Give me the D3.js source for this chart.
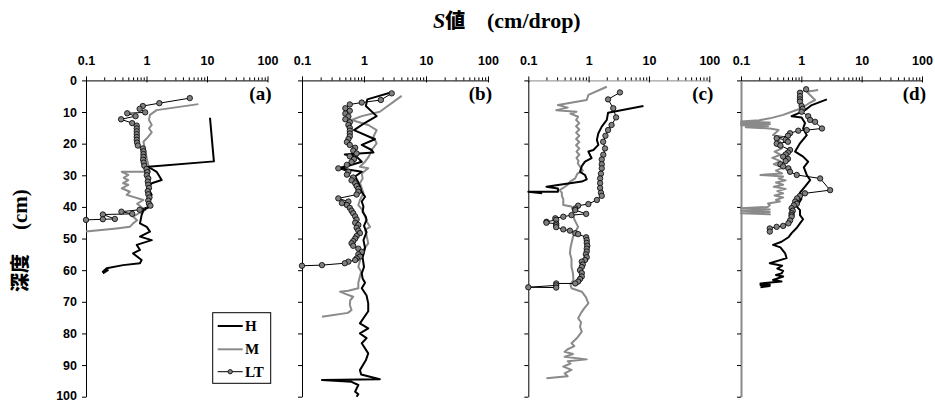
<!DOCTYPE html>
<html><head><meta charset="utf-8">
<script src="https://cdn.jsdelivr.net/npm/d3@7"></script>
<style>
body{margin:0;background:#fff;}
svg{display:block;}
</style></head>
<body><svg id="chart" width="935" height="402"></svg>
<script>
// Panel labels, series names and axis ticks
const panelNames = ["(a)", "(b)", "(c)", "(d)"];
const seriesNames = ["H", "M", "LT"];
const xTicks = [0.1, 1, 10, 100];
const xTickLabels = ["0.1", "1", "10", "100"];
const yTicks = [0, 10, 20, 30, 40, 50, 60, 70, 80, 90, 100];

// Each record: [depth (cm), S value (cm/drop)]
const hA = [[11.8,11.2],[25.6,13.0],[27.3,1.07],[28.9,1.47],[31.5,1.78],[32.5,1.22],[34.1,1.07],[36.2,1.22],[37.8,1.01],[39.9,1.14],[41,0.89],[42.6,0.83],[45.2,0.78],[46.3,1.01],[47.8,1.14],[49.4,0.78],[50.5,1.22],[52,0.69],[53.6,0.78],[54.7,0.6],[56.8,0.83],[57.8,0.78],[58.4,0.41],[59.4,0.22],[60.5,0.19],[60.0,0.23],[61,0.19]];
const mA = [[7.5,7.2],[9.4,1.47],[10.9,1.14],[12.5,1.1],[14.1,1.22],[15.2,1.1],[16.4,1.22],[17.8,1.07],[19.4,0.89],[22,0.95],[24.6,1.01],[26.7,1.07],[28.9,1.14],[28.9,0.39],[29.9,0.5],[30.8,0.42],[31.5,0.5],[32.5,0.41],[33,0.5],[34.1,0.39],[35.2,0.53],[36.2,0.47],[37.8,0.89],[39,0.7],[41,0.95],[42,0.75],[43.1,0.6],[44.2,0.7],[45.2,0.6],[46.3,0.53],[46.8,0.32],[47.8,0.1]];
const ltA = [[5.6,5.2],[7.2,1.63],[8.1,0.87],[9.0,0.77],[10.1,0.95],[10.4,0.48],[11.3,0.66],[12.3,0.38],[13.5,0.58],[14.3,0.69],[15.2,0.69],[16.1,0.69],[17,0.69],[17.9,0.69],[18.8,0.69],[19.7,0.7],[20.6,0.72],[21.5,0.87],[22.4,0.89],[23.3,0.89],[24.2,0.89],[25.1,0.88],[26,0.9],[27,0.92],[28,1.0],[29,1.03],[30,1.01],[31,1.07],[32,1.05],[33,1.07],[34,1.1],[35,1.05],[36,1.07],[37,1.12],[38,1.07],[39,1.1],[39.6,1.16],[40.9,0.77],[41.5,0.385],[42.2,0.58],[42.4,0.19],[43.8,0.3],[43.9,0.19],[44.1,0.1]];

const hB = [[3.9,2.63],[6,1.13],[8.1,1.07],[11.3,1.6],[13.4,1.04],[15.7,0.69],[18.6,1.5],[20.4,0.92],[22,1.33],[22.8,1.42],[23.4,0.49],[24.1,0.76],[25.7,0.92],[27.8,0.41],[28.9,0.92],[30.4,0.72],[32,0.8],[33.6,0.86],[35,0.9],[36.8,1.04],[38.3,0.92],[39.9,0.98],[41.5,0.95],[43.1,1.07],[44.1,1.1],[46,1.0],[48,1.1],[50.5,0.98],[53,1.04],[56,0.95],[59,1.0],[61,0.92],[62.6,0.95],[64,1.04],[65.7,0.92],[68,1.1],[70.5,1.17],[73,1.17],[76.8,0.86],[78.4,1.17],[80,0.86],[81.5,1.1],[83.1,0.92],[86.3,1.17],[88.5,1.07],[91.6,0.86],[93,0.9],[94.5,1.8],[94.7,0.21],[95.3,0.63],[96.3,0.81],[98.4,0.72],[99.2,0.81],[100,0.76]];
const mB = [[4.9,4.05],[9.9,1.8],[11.3,0.92],[12.5,0.63],[14.1,1.17],[15.7,1.6],[17.8,1.42],[19.9,1.6],[22,1.33],[24,1.2],[25.7,1.04],[27.3,0.86],[27.8,1.17],[29.4,0.92],[31,0.95],[32.5,0.86],[34,0.92],[35.7,0.98],[37.8,0.86],[39.4,0.81],[41,0.95],[43.1,1.04],[44.5,1.1],[46.3,1.25],[47.3,1.04],[49,1.1],[51.5,1.17],[53.6,0.98],[55.5,0.9],[57,0.86],[58.9,0.81],[60.5,0.9],[62,0.86],[64,0.81],[65.7,0.81],[66.5,0.56],[66.8,0.41],[67.5,0.5],[68.4,0.67],[69.5,0.6],[71,0.59],[72.6,0.63],[73.5,0.55],[74.7,0.21]];
const ltB = [[4.1,2.8],[6.2,1.87],[7,0.92],[7.6,0.59],[8.8,0.5],[9.6,0.59],[10.5,0.5],[11.4,0.56],[12.3,0.5],[13.2,0.59],[14.1,0.56],[15,0.59],[15.9,0.59],[16.8,0.59],[17.7,0.59],[18.6,0.56],[19.5,0.53],[20.4,0.59],[21.3,0.72],[22.2,0.67],[23.1,0.76],[24,0.59],[24.9,0.69],[25.8,0.63],[26.7,0.53],[27.8,0.385],[28.9,0.56],[29.8,0.53],[30.7,0.67],[31.6,0.63],[32.5,0.72],[33.4,0.76],[34.3,0.81],[35.2,0.81],[36.1,0.76],[37.3,0.385],[38.3,0.56],[38.8,0.44],[39.4,0.53],[40.3,0.59],[41.2,0.63],[42,0.67],[43,0.72],[44,0.76],[45,0.72],[45.7,0.81],[46.6,0.76],[47.5,0.81],[48.3,0.86],[49.2,0.76],[50,0.72],[50.8,0.67],[51.5,0.63],[52.3,0.67],[53.2,0.81],[54.2,0.92],[55,0.81],[55.7,0.86],[56.3,0.76],[56.8,0.72],[57.3,0.56],[57.8,0.49],[58.4,0.21],[58.6,0.1]];

const hC = [[8.1,8.1],[10.2,2.1],[12.5,2.0],[14.6,1.65],[16.7,1.45],[18.8,1.37],[20.4,1.45],[22,1.2],[22.5,0.99],[24.6,1.12],[25.7,0.87],[27.1,0.77],[28.9,0.72],[29.9,0.87],[31.3,0.93],[32,0.77],[32.5,0.49],[33.1,0.31],[33.6,0.2],[34.2,0.31],[35.2,0.31],[35.2,0.1],[35.7,0.17]];
const mC = [[2,2.0],[4.6,0.99],[6.2,0.93],[7.8,0.31],[8.6,0.45],[9.4,0.29],[9.9,0.63],[10.5,0.5],[11.5,0.67],[12.5,0.62],[13.5,0.7],[14.5,0.62],[15.5,0.7],[16.5,0.62],[17.5,0.7],[18.5,0.62],[19.5,0.7],[20.5,0.62],[21.5,0.7],[22.5,0.63],[23.5,0.7],[24.5,0.63],[25.5,0.68],[26.2,0.66],[27.3,0.72],[28.5,0.8],[29.5,0.65],[31,0.6],[32,0.49],[33,0.45],[34,0.38],[34.7,0.33],[35.5,0.36],[36.5,0.36],[37.5,0.38],[39.4,0.38],[39.9,0.52],[41,0.55],[42.6,0.56],[44,0.58],[46.3,0.67],[48,0.6],[49.5,0.55],[51.5,0.52],[53,0.5],[54.7,0.49],[56.5,0.52],[58.9,0.52],[61,0.55],[63.1,0.56],[64.5,0.5],[65.7,0.52],[66.8,0.77],[68.5,0.9],[70.5,0.99],[72,0.85],[73.5,0.75],[75.2,0.67],[76.5,0.75],[77.9,0.72],[79.4,0.77],[81,0.67],[82,0.6],[83.1,0.52],[84,0.58],[85,0.45],[85.8,0.4],[86.5,0.55],[87.4,0.4],[88.2,0.93],[88.8,0.45],[89.5,0.5],[90.5,0.38],[91.5,0.52],[92.6,0.4],[93.5,0.45],[94.2,0.2]];
const ltC = [[3.8,3.3],[6,2.1],[8.8,2.56],[11.7,2.85],[14.1,2.4],[15.7,2.1],[17.5,1.9],[19.4,1.74],[21.5,1.87],[23.5,1.75],[25,1.65],[26.5,1.65],[27.8,1.65],[29.5,1.6],[31,1.55],[32.5,1.55],[34,1.55],[35.5,1.6],[36.5,1.65],[37.8,1.37],[39.1,0.99],[39.6,0.67],[40.5,0.6],[41,0.6],[42.2,0.91],[42.6,0.52],[43.1,0.38],[43.6,0.28],[44.1,0.29],[44.7,0.2],[45,0.2],[45.3,0.29],[45.8,0.29],[46.4,0.29],[47.1,0.38],[47.5,0.49],[48.3,0.6],[48.6,0.67],[49.6,0.91],[50.5,0.93],[51.4,0.93],[52.3,0.95],[53.2,0.93],[54.1,0.93],[55,0.9],[55.9,0.93],[56.8,0.87],[57.3,0.77],[58.2,0.8],[59,0.77],[60,0.72],[60.9,0.77],[62,0.77],[62.8,0.72],[63.6,0.67],[64.2,0.6],[64.2,0.29],[64.8,0.29],[65.4,0.1],[65.5,0.29]];

const hD = [[6,2.65],[7.8,1.49],[9.4,1.15],[10.2,0.95],[11.3,0.69],[11.7,1.01],[13.5,1.15],[15.2,1.07],[17.3,1.23],[19.9,0.95],[22.5,0.79],[24.1,1.07],[25.7,1.3],[27.5,1.1],[29.9,1.23],[31.5,1.4],[33.6,1.15],[35.5,0.95],[37.5,1.0],[39.9,0.84],[41,0.95],[42.6,0.95],[43.9,1.07],[45.2,0.95],[46.5,0.85],[48.3,0.69],[49.5,0.62],[51,0.47],[52,0.34],[52.8,0.45],[54.7,0.54],[56.2,0.57],[57.8,0.3],[58.6,0.48],[59.5,0.4],[60.2,0.5],[61,0.47],[61.5,0.38],[62,0.5],[63.1,0.34],[63.6,0.47],[64.2,0.21],[64.5,0.3],[64.7,0.21],[65,0.3],[65.4,0.21]];
const mD = [[3,1.9],[3.6,1.23],[6.2,1.69],[7,1.4],[8.8,1.01],[9.9,0.69],[10.9,0.5],[12,0.3],[12.6,0.2],[13,0.1],[13.3,0.3],[13.6,0.1],[13.9,0.3],[14.2,0.1],[14.5,0.28],[14.8,0.12],[15.2,0.3],[15.7,0.42],[16.5,0.38],[17.3,0.34],[17.8,0.48],[18.5,0.4],[19.5,0.45],[20.5,0.38],[21.5,0.48],[22.5,0.36],[23.5,0.45],[24.5,0.33],[25.5,0.45],[26.5,0.35],[27.5,0.5],[28.5,0.38],[29.4,0.48],[29.9,0.21],[30.4,0.5],[31,0.42],[31.6,0.55],[32.3,0.38],[33,0.5],[33.6,0.35],[34.3,0.55],[35,0.4],[35.7,0.5],[36.4,0.36],[37,0.5],[37.8,0.38],[38.3,0.44],[38.9,0.28],[39.4,0.3],[40,0.28],[40.4,0.1],[40.8,0.3],[41.2,0.1],[41.6,0.3],[42,0.1],[42.3,0.3],[42.6,0.3]];
const ltD = [[2.8,1.2],[3.9,0.95],[5,0.95],[6,0.95],[6.7,0.95],[8.1,1.01],[9,1.05],[9.9,1.01],[11.3,1.3],[12.5,1.4],[13.1,1.69],[15.2,2.2],[15.7,1.23],[15.9,0.89],[16.7,0.65],[17.5,0.6],[18.3,0.39],[18.8,0.55],[19.4,0.6],[20,0.39],[20.6,0.45],[22,0.65],[22.8,0.6],[23.4,0.55],[24.1,0.5],[24.8,0.6],[25.5,0.55],[26.5,0.45],[27.2,0.5],[27.8,0.61],[28.9,0.65],[29.9,0.84],[31,2.05],[34.7,3.0],[35.7,1.15],[36.5,0.95],[37.3,0.85],[38.3,0.79],[39,0.84],[39.5,0.75],[40.4,0.69],[41.2,0.72],[42,0.69],[42.6,0.69],[43.1,0.69],[44.3,0.65],[45.2,0.61],[46,0.5],[46.3,0.39],[46.8,0.3],[47.8,0.3]];

const panelData = [
  {h: hA, m: mA, lt: ltA},
  {h: hB, m: mB, lt: ltB},
  {h: hC, m: mC, lt: ltC},
  {h: hD, m: mD, lt: ltD}
];

// Layout
const panelLeft  = [86, 302, 528.3, 741];
const panelRight = [267.5, 488, 709.3, 922];
const plotTop = 80.4, plotBottom = 396.7;
const GRAY = "#8a8a8a";
const sans = "'Liberation Sans', Arial, sans-serif";
const serif = "'Liberation Serif', 'Times New Roman', serif";
const cjk = "'Noto Sans CJK JP', 'Noto Sans CJK SC', sans-serif";

const svg = d3.select("#chart");
const y = d3.scaleLinear().domain([0, 100]).range([plotTop, plotBottom]);

const minorTicks = [];
[0.1, 1, 10].forEach(b => { for (let k = 2; k <= 9; k++) minorTicks.push(b * k); });

panelData.forEach((pd, i) => {
  const x = d3.scaleLog().domain([0.1, 100]).range([panelLeft[i], panelRight[i]]);
  const g = svg.append("g");

  // top (log) axis: minor ticks, then major ticks with labels
  const minorAxis = g.append("g").attr("transform", `translate(0,${plotTop})`)
    .call(d3.axisTop(x).tickValues(minorTicks).tickSize(3).tickSizeOuter(0).tickFormat(""));
  minorAxis.select(".domain").attr("stroke", i === 2 ? GRAY : "#000");
  minorAxis.selectAll(".tick line").attr("stroke", "#000");

  const majorAxis = g.append("g").attr("transform", `translate(0,${plotTop})`)
    .call(d3.axisTop(x).tickValues(xTicks).tickSize(4).tickSizeOuter(0)
      .tickPadding(11).tickFormat((d, k) => xTickLabels[k]));
  majorAxis.select(".domain").remove();
  majorAxis.selectAll(".tick line").attr("stroke", "#000").attr("y2", -4).attr("y1", 2);
  majorAxis.selectAll(".tick text")
    .attr("font-family", sans).attr("font-weight", "bold").attr("font-size", 12.5).attr("fill", "#000");

  // left (depth) axis
  const yAxis = g.append("g").attr("transform", `translate(${panelLeft[i]},0)`)
    .call(d3.axisLeft(y).tickValues(yTicks).tickSize(4).tickSizeOuter(0)
      .tickPadding(5).tickFormat(i === 0 ? d3.format("d") : ""));
  yAxis.select(".domain").attr("stroke", i === 3 ? GRAY : "#000").attr("stroke-width", i === 3 ? 2 : 1);
  yAxis.selectAll(".tick line").attr("stroke", "#000");
  yAxis.selectAll(".tick text")
    .attr("font-family", sans).attr("font-weight", "bold").attr("font-size", 12.5).attr("fill", "#000")
    .attr("dy", d => d === 100 ? "0.22em" : "0.32em");

  const line = d3.line().x(d => x(d[1])).y(d => y(d[0]));

  g.append("path").datum(pd.m).attr("d", line)
    .attr("fill", "none").attr("stroke", GRAY).attr("stroke-width", 2).attr("stroke-linejoin", "round");
  g.append("path").datum(pd.h).attr("d", line)
    .attr("fill", "none").attr("stroke", "#000").attr("stroke-width", 2).attr("stroke-linejoin", "round");
  g.append("path").datum(pd.lt).attr("d", line)
    .attr("fill", "none").attr("stroke", "#000").attr("stroke-width", 1);
  g.selectAll("circle.lt").data(pd.lt).join("circle").attr("class", "lt")
    .attr("cx", d => x(d[1])).attr("cy", d => y(d[0])).attr("r", 2.7)
    .attr("fill", "#808080").attr("stroke", "#000").attr("stroke-width", 0.8);

  // panel tag
  g.append("text").attr("x", panelRight[i] + 4).attr("y", 99.5)
    .attr("text-anchor", "end").attr("font-family", serif).attr("font-weight", "bold")
    .attr("font-size", 19).text(panelNames[i]);
});

// Legend inside panel (a)
const lg = svg.append("g");
lg.append("rect").attr("x", 212.7).attr("y", 312.7).attr("width", 58).attr("height", 70.6)
  .attr("fill", "#fff").attr("stroke", "#000").attr("stroke-width", 1);
const legendY = [326, 349.3, 371.7];
const legendStyle = [
  {stroke: "#000", width: 2, marker: false},
  {stroke: GRAY, width: 2, marker: false},
  {stroke: "#000", width: 1, marker: true}
];
seriesNames.forEach((name, k) => {
  const s = legendStyle[k];
  lg.append("line").attr("x1", 217.7).attr("x2", 242.7).attr("y1", legendY[k]).attr("y2", legendY[k])
    .attr("stroke", s.stroke).attr("stroke-width", s.width);
  if (s.marker) lg.append("circle").attr("cx", 230.2).attr("cy", legendY[k]).attr("r", 2.2)
    .attr("fill", "#808080").attr("stroke", "#000").attr("stroke-width", 0.8);
  lg.append("text").attr("x", 245).attr("y", legendY[k] + 5).attr("font-family", serif)
    .attr("font-weight", "bold").attr("font-size", 15).text(name);
});

// Axis titles
const title = svg.append("text").attr("x", 433).attr("y", 28)
  .attr("font-family", serif).attr("font-weight", "bold").attr("font-size", 22);
title.append("tspan").attr("font-style", "italic").text("S");
title.append("tspan").attr("font-family", cjk).attr("font-weight", 900).attr("font-size", 20).text("値");
title.append("tspan").attr("x", 487).text("(cm/drop)");

const ylab = svg.append("text").attr("transform", "translate(27,292) rotate(-90)")
  .attr("font-family", serif).attr("font-weight", "bold").attr("font-size", 21);
ylab.append("tspan").attr("font-family", cjk).attr("font-weight", 900).attr("font-size", 19).text("深度");
ylab.append("tspan").attr("dx", 24).text("(cm)");
</script>
</body></html>
